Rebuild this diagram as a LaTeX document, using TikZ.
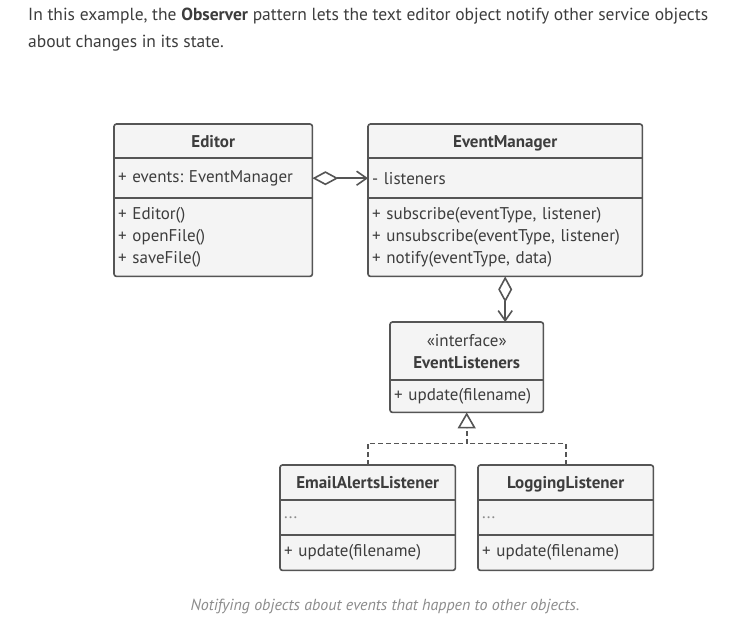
\documentclass[tikz,border=0pt]{standalone}
\usepackage{fontspec}
\setmainfont{PT Sans}
\usepackage{tikz}
\usetikzlibrary{arrows.meta}
\frenchspacing
\definecolor{ink}{HTML}{3D3D3D}
\definecolor{frame}{HTML}{555555}
\definecolor{boxbg}{HTML}{F4F4F4}
\definecolor{muted}{HTML}{8C8C8C}
\tikzset{
  cell/.style={anchor=north west, fill=boxbg, text=ink, font=\fontsize{17}{22}\selectfont, inner xsep=4pt, inner ysep=0pt, align=left},
  head/.style={cell, align=center, font=\fontsize{17}{22}\selectfont\bfseries},
  head1/.style={head, text height=14pt, text depth=2pt},
  outline/.style={draw=frame, line width=1.6pt, rounded corners=2.5pt},
  sep/.style={draw=frame, line width=1.6pt},
  assoc/.style={draw=frame, line width=1.6pt, {Diamond[open,length=26pt,width=14pt]}-{Straight Barb[length=10pt,width=14pt]}},
  impl/.style={draw=frame, line width=1.6pt, dash pattern=on 5pt off 3pt, -{Triangle[open,length=16pt,width=18pt]}},
  plain/.style={draw=frame, line width=1.6pt, dash pattern=on 5pt off 3pt},
  lab/.style={text=ink, inner sep=0pt},
  labm/.style={text=muted, font=\itshape\fontsize{16}{18}\selectfont}
}

\begin{document}
\begin{tikzpicture}[x=1pt,y=-1pt]
  \useasboundingbox[fill=white] (0,0) rectangle (747,632);

  % intro text
  \node[lab, anchor=north west, align=left, font=\fontsize{17.5}{27}\selectfont] (intro) at (28,8)
    {In this example, the \textbf{Observer} pattern lets the text editor object notify other service objects\\about changes in its state.};

  % Editor
  \node[head1, text width=190pt, minimum height=34pt] (edH) at (114,124) {Editor};
  \node[cell, text width=190pt, minimum height=40pt] (edA) at (114,158) {+ events: EventManager};
  \node[cell, text width=190pt, minimum height=78pt] (edM) at (114,198) {+ Editor()\\+ openFile()\\+ saveFile()};
  \draw[outline] (edH.north west) rectangle (edM.south east);
  \draw[sep] (edA.north west) -- (edA.north east);
  \draw[sep] (edM.north west) -- (edM.north east);

  % EventManager
  \node[head1, text width=266pt, minimum height=34pt] (emH) at (368,124) {EventManager};
  \node[cell, text width=266pt, minimum height=40pt] (emA) at (368,158) {- listeners};
  \node[cell, text width=266pt, minimum height=78pt] (emM) at (368,198)
    {+ subscribe(eventType, listener)\\+ unsubscribe(eventType, listener)\\+ notify(eventType, data)};
  \draw[outline] (emH.north west) rectangle (emM.south east);
  \draw[sep] (emA.north west) -- (emA.north east);
  \draw[sep] (emM.north west) -- (emM.north east);

  % EventListeners
  \node[head, text width=145pt, minimum height=58pt] (elH) at (390,322) {{\mdseries «interface»}\\EventListeners};
  \node[cell, text width=145pt, minimum height=32pt] (elM) at (390,380) {+ update(filename)};
  \draw[outline] (elH.north west) rectangle (elM.south east);
  \draw[sep] (elM.north west) -- (elM.north east);

  % EmailAlertsListener
  \node[head1, text width=167pt, minimum height=35pt] (eaH) at (280,465) {EmailAlertsListener};
  \node[cell, text width=167pt, minimum height=35pt] (eaA) at (280,500) {\textcolor{muted}{...}};
  \node[cell, text width=167pt, minimum height=35pt] (eaM) at (280,535) {+ update(filename)};
  \draw[outline] (eaH.north west) rectangle (eaM.south east);
  \draw[sep] (eaA.north west) -- (eaA.north east);
  \draw[sep] (eaM.north west) -- (eaM.north east);

  % LoggingListener
  \node[head1, text width=167pt, minimum height=35pt] (lgH) at (478,465) {LoggingListener};
  \node[cell, text width=167pt, minimum height=35pt] (lgA) at (478,500) {\textcolor{muted}{...}};
  \node[cell, text width=167pt, minimum height=35pt] (lgM) at (478,535) {+ update(filename)};
  \draw[outline] (lgH.north west) rectangle (lgM.south east);
  \draw[sep] (lgA.north west) -- (lgA.north east);
  \draw[sep] (lgM.north west) -- (lgM.north east);

  % relations
  \draw[assoc] (edA.east) -- (emA.west);
  \draw[assoc] (emM.south) -- (emM.south |- elH.north);
  \coordinate (jn) at ([yshift=-31pt]elM.south);
  \draw[impl] (eaH.north) |- (jn) -- (elM.south);
  \draw[plain] (lgH.north) |- (jn);

  \node[labm] (cap) at (385,606) {Notifying objects about events that happen to other objects.};
\end{tikzpicture}
\end{document}
